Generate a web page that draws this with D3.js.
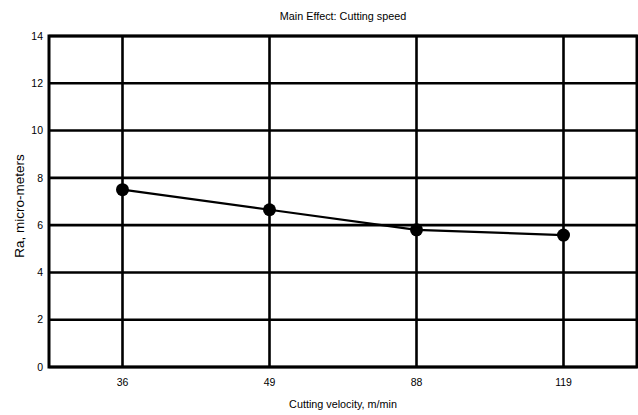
<!DOCTYPE html>
<html>
<head>
<meta charset="utf-8">
<script src="https://cdn.jsdelivr.net/npm/d3@7"></script>
<style>
  body { margin: 0; background: #fff; }
  text { font-family: "Liberation Sans", Arial, sans-serif; fill: #000; }
</style>
</head>
<body>
<svg id="chart" width="638" height="415"></svg>
<script>
// cutting velocity levels (m/min) and mean Ra at each level
var speeds = ["36", "49", "88", "119"];
var raMeans = [7.5, 6.65, 5.8, 5.58];
var yTicks = [0, 2, 4, 6, 8, 10, 12, 14];

var width = 638, height = 415;
var margin = {top: 36, right: 1, bottom: 48, left: 49};

var svg = d3.select("#chart");

var x = d3.scaleBand()
  .domain(speeds)
  .range([margin.left, width - margin.right]);

var y = d3.scaleLinear()
  .domain([0, 14])
  .range([height - margin.bottom, margin.top]);

// horizontal grid
svg.append("g").selectAll("line")
  .data(yTicks)
  .enter().append("line")
  .attr("x1", margin.left)
  .attr("x2", width - margin.right)
  .attr("y1", function(d) { return y(d); })
  .attr("y2", function(d) { return y(d); })
  .attr("stroke", "#000")
  .attr("stroke-width", 2.6);

// vertical grid at each level
svg.append("g").selectAll("line")
  .data(speeds)
  .enter().append("line")
  .attr("x1", function(d) { return x(d) + x.bandwidth() / 2; })
  .attr("x2", function(d) { return x(d) + x.bandwidth() / 2; })
  .attr("y1", y(0))
  .attr("y2", y(14))
  .attr("stroke", "#000")
  .attr("stroke-width", 2.6);

// frame
svg.append("rect")
  .attr("x", margin.left)
  .attr("y", margin.top)
  .attr("width", width - margin.right - margin.left)
  .attr("height", y(0) - margin.top)
  .attr("fill", "none")
  .attr("stroke", "#000")
  .attr("stroke-width", 3);

// y tick labels
svg.append("g").selectAll("text")
  .data(yTicks)
  .enter().append("text")
  .attr("x", margin.left - 6)
  .attr("y", function(d) { return y(d); })
  .attr("dy", "0.35em")
  .attr("text-anchor", "end")
  .style("font-size", "10.5px")
  .text(function(d) { return d; });

// x tick labels
svg.append("g").selectAll("text")
  .data(speeds)
  .enter().append("text")
  .attr("x", function(d) { return x(d) + x.bandwidth() / 2; })
  .attr("y", y(0) + 19)
  .attr("text-anchor", "middle")
  .style("font-size", "10.5px")
  .text(function(d) { return d; });

// the line
var pts = speeds.map(function(s, i) { return [x(s) + x.bandwidth() / 2, y(raMeans[i])]; });

svg.append("path")
  .datum(pts)
  .attr("d", d3.line())
  .attr("fill", "none")
  .attr("stroke", "#000")
  .attr("stroke-width", 2.2);

svg.append("g").selectAll("circle")
  .data(pts)
  .enter().append("circle")
  .attr("cx", function(d) { return d[0]; })
  .attr("cy", function(d) { return d[1]; })
  .attr("r", 6.5)
  .attr("fill", "#000");

// titles
svg.append("text")
  .attr("x", (margin.left + width - margin.right) / 2)
  .attr("y", 20)
  .attr("text-anchor", "middle")
  .style("font-size", "10.8px")
  .text("Main Effect: Cutting speed");

svg.append("text")
  .attr("x", (margin.left + width - margin.right) / 2)
  .attr("y", 408)
  .attr("text-anchor", "middle")
  .style("font-size", "10.8px")
  .text("Cutting velocity, m/min");

svg.append("text")
  .attr("transform", "translate(19,206) rotate(-90)")
  .attr("dy", "0.35em")
  .attr("text-anchor", "middle")
  .style("font-size", "13.5px")
  .text("Ra, micro-meters");
</script>
</body>
</html>
